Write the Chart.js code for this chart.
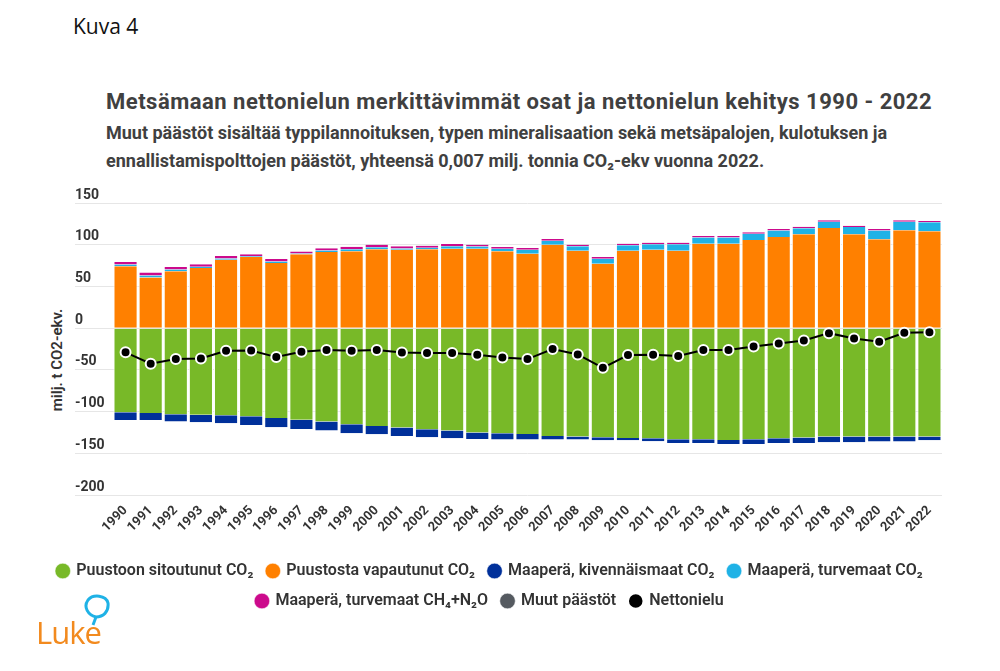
<!DOCTYPE html>
<html>
<head>
<meta charset="utf-8">
<title>Metsämaan nettonielu 1990 - 2022</title>
<script src="https://cdn.jsdelivr.net/npm/chart.js"></script>
<style>
    body {
        margin: 0;
        width: 1000px;
        height: 671px;
        position: relative;
        overflow: hidden;
        background: #fff;
        font-family: Roboto, Arial, sans-serif;
    }

    .kuva {
        position: absolute;
        left: 73px;
        top: 12px;
        font-family: "Open Sans", sans-serif;
        font-size: 21px;
        color: #111;
    }

    .title {
        position: absolute;
        left: 106px;
        top: 89px;
        font-size: 22px;
        letter-spacing: 0.5px;
        font-weight: 700;
        color: #404040;
        white-space: nowrap;
    }

    .subtitle {
        position: absolute;
        left: 106px;
        top: 119px;
        font-size: 18px;
        font-weight: 700;
        color: #404040;
        line-height: 28px;
        white-space: nowrap;
    }

    .ytitle {
        position: absolute;
        left: 57px;
        top: 360px;
        transform: translate(-50%, -50%) rotate(-90deg);
        font-size: 15px;
        font-weight: 600;
        color: #333;
        white-space: nowrap;
    }

    #wrap {
        position: absolute;
        left: 0;
        top: 180px;
        width: 1000px;
        height: 439px;
    }

    .logo {
        position: absolute;
        left: 36px;
        top: 596px;
        width: 80px;
        height: 60px;
    }

    .logo span {
        position: absolute;
        left: 0;
        top: 15px;
        font-family: "Open Sans", sans-serif;
        font-size: 31px;
        color: #f28a1e;
        letter-spacing: -1px;
    }
</style>
</head>
<body>

<div class="kuva">Kuva 4</div>
<div class="title">Metsämaan nettonielun merkittävimmät osat ja nettonielun kehitys 1990 - 2022</div>
<div class="subtitle">Muut päästöt sisältää typpilannoituksen, typen mineralisaation sekä metsäpalojen, kulotuksen ja<br>ennallistamispolttojen päästöt, yhteensä 0,007 milj. tonnia CO₂-ekv vuonna 2022.</div>
<div class="ytitle">milj. t CO2-ekv.</div>

<div id="wrap"><canvas id="chart"></canvas></div>

<div class="logo">
    <svg width="80" height="40" style="position:absolute;left:0;top:-2px">
        <path d="M60 23 C52 21 47 13 52 6 C57 0 70 1 72 9 C73 18 67 23 60 23 Z" fill="none" stroke="#1fb2e6" stroke-width="3"/>
        <path d="M60 23 L57 31" fill="none" stroke="#1fb2e6" stroke-width="3"/>
    </svg>
    <span>Luke</span>
</div>

<script>
    // years
    const years = ['1990', '1991', '1992', '1993', '1994', '1995', '1996', '1997', '1998', '1999',
        '2000', '2001', '2002', '2003', '2004', '2005', '2006', '2007', '2008', '2009',
        '2010', '2011', '2012', '2013', '2014', '2015', '2016', '2017', '2018', '2019',
        '2020', '2021', '2022'];

    // milj. t CO2-ekv.
    const puustoonSitoutunut = [-100.8, -101.7, -103.3, -103.7, -104.5, -105.6, -107.7, -109.7, -112.0, -115.2,
        -117.2, -119.2, -121.2, -122.8, -125.2, -126.0, -126.8, -129.2, -130.0, -130.8,
        -131.6, -132.0, -133.2, -133.2, -134.0, -133.2, -132.0, -131.2, -130.0, -130.0,
        -130.0, -130.0, -130.0];

    const puustostaVapautunut = [74.2, 60.6, 68.2, 72.2, 82.1, 85.3, 78.1, 88.5, 91.3, 92.1,
        94.5, 94.1, 94.5, 95.3, 95.3, 92.1, 89.3, 100.1, 92.9, 77.3,
        92.9, 94.1, 92.9, 101.3, 101.3, 105.7, 109.2, 112.4, 120.0, 112.4,
        106.5, 117.2, 116.0];

    const kivennaismaatCO2 = [-9.2, -8.3, -8.7, -9.1, -9.5, -10.4, -11.1, -11.1, -10.8, -10.8,
        -10.0, -10.0, -9.6, -9.2, -7.6, -7.6, -6.8, -4.4, -3.6, -3.6,
        -2.8, -3.6, -4.4, -4.4, -4.8, -5.6, -5.6, -6.4, -6.8, -6.8,
        -6.0, -6.0, -4.4];

    const turvemaatCO2 = [2.0, 2.5, 2.0, 1.5, 1.5, 0.8, 1.8, 1.0, 1.8, 2.5,
        2.6, 1.5, 2.0, 3.0, 2.5, 3.0, 4.6, 4.8, 5.2, 6.0,
        6.4, 6.5, 7.6, 7.2, 7.2, 7.3, 7.8, 7.4, 7.5, 8.7,
        10.6, 10.3, 10.8];

    const turvemaatCH4N2O = [3.0, 3.5, 3.2, 3.0, 3.0, 2.5, 3.0, 2.5, 2.8, 3.0,
        3.0, 2.5, 2.4, 2.6, 2.3, 2.2, 2.2, 2.0, 2.0, 2.0,
        2.0, 1.9, 2.0, 1.9, 1.9, 1.8, 1.8, 1.8, 1.7, 1.7,
        1.7, 1.7, 1.6];

    const muutPaastot = [0.01, 0.01, 0.01, 0.01, 0.01, 0.01, 0.01, 0.01, 0.01, 0.01,
        0.01, 0.01, 0.01, 0.01, 0.01, 0.01, 0.01, 0.01, 0.01, 0.01,
        0.01, 0.01, 0.01, 0.01, 0.01, 0.01, 0.01, 0.01, 0.01, 0.01,
        0.01, 0.01, 0.007];

    const nettonielu = [-29.0, -42.7, -37.0, -36.3, -27.1, -26.7, -34.7, -28.3, -26.3, -27.1,
        -26.3, -29.1, -29.9, -29.9, -31.9, -35.1, -37.1, -25.1, -31.5, -47.5,
        -32.3, -31.9, -33.5, -26.3, -26.3, -21.9, -18.3, -14.7, -6.0, -12.3,
        -16.3, -5.6, -4.8];

    const yMin = -200;
    const yMax = 150;
    const yStep = 50;

    const barBorder = { left: 1, right: 1, top: 0, bottom: 0 };

    function bar(label, data, color) {
        return {
            type: 'bar',
            label: label,
            data: data,
            backgroundColor: color,
            borderColor: '#ffffff',
            borderWidth: barBorder,
            borderSkipped: false,
            categoryPercentage: 0.96,
            barPercentage: 1
        };
    }

    const ctx = document.getElementById('chart').getContext('2d');
    const chart = new Chart(ctx, {
        type: 'bar',
        data: {
            labels: years,
            datasets: [
                bar('Puustoon sitoutunut CO₂', puustoonSitoutunut, '#78b928'),
                bar('Puustosta vapautunut CO₂', puustostaVapautunut, '#ff8000'),
                bar('Maaperä, kivennäismaat CO₂', kivennaismaatCO2, '#00309a'),
                bar('Maaperä, turvemaat CO₂', turvemaatCO2, '#1fb2e6'),
                bar('Maaperä, turvemaat CH₄+N₂O', turvemaatCH4N2O, '#cc0a8c'),
                bar('Muut päästöt', muutPaastot, '#555a60'),
                {
                    type: 'line',
                    label: 'Nettonielu',
                    data: nettonielu,
                    stack: 'netto',
                    order: -1,
                    borderColor: '#000000',
                    backgroundColor: '#000000',
                    borderWidth: 2,
                    pointRadius: 5,
                    pointBackgroundColor: '#000000',
                    pointBorderColor: '#ffffff',
                    pointBorderWidth: 2,
                    tension: 0
                }
            ]
        },
        options: {
            responsive: true,
            maintainAspectRatio: false,
            animation: false,
            layout: {
                padding: { left: 0, right: 20, top: 23, bottom: 0 }
            },
            plugins: {
                tooltip: { enabled: false },
                legend: {
                    position: 'bottom',
                    labels: {
                        usePointStyle: true,
                        pointStyle: 'circle',
                        boxWidth: 11,
                        boxHeight: 11,
                        padding: 14,
                        color: '#333',
                        font: { family: 'Roboto', size: 16, weight: '600' },
                        sort: (a, b) => a.datasetIndex - b.datasetIndex
                    }
                }
            },
            scales: {
                x: {
                    stacked: true,
                    afterFit: (scale) => { scale.height = 54; },
                    grid: { display: false, drawTicks: false },
                    border: { display: false },
                    ticks: {
                        autoSkip: false,
                        minRotation: 45,
                        maxRotation: 45,
                        padding: 8,
                        color: '#333',
                        font: { family: 'Roboto', size: 13, weight: 'bold' }
                    }
                },
                y: {
                    stacked: true,
                    min: yMin,
                    max: yMax,
                    // axis box 0..113, labels sit above the gridlines from x=75
                    afterFit: (scale) => { scale.width = 113; },
                    border: { display: false },
                    grid: {
                        color: '#e6e6e6',
                        tickColor: '#e6e6e6',
                        tickLength: 38,
                        drawTicks: true
                    },
                    ticks: {
                        stepSize: yStep,
                        mirror: true,
                        crossAlign: 'near',
                        padding: -38,
                        labelOffset: -8,
                        color: '#333',
                        font: { family: 'Roboto', size: 14, weight: 'bold' }
                    }
                },
                // empty spacer on the right so the plot ends at x=942
                spacer: {
                    type: 'linear',
                    position: 'right',
                    afterFit: (scale) => { scale.width = 38; },
                    grid: { display: false, drawTicks: false },
                    border: { display: false },
                    ticks: { display: false }
                }
            }
        }
    });
</script>

</body>
</html>
